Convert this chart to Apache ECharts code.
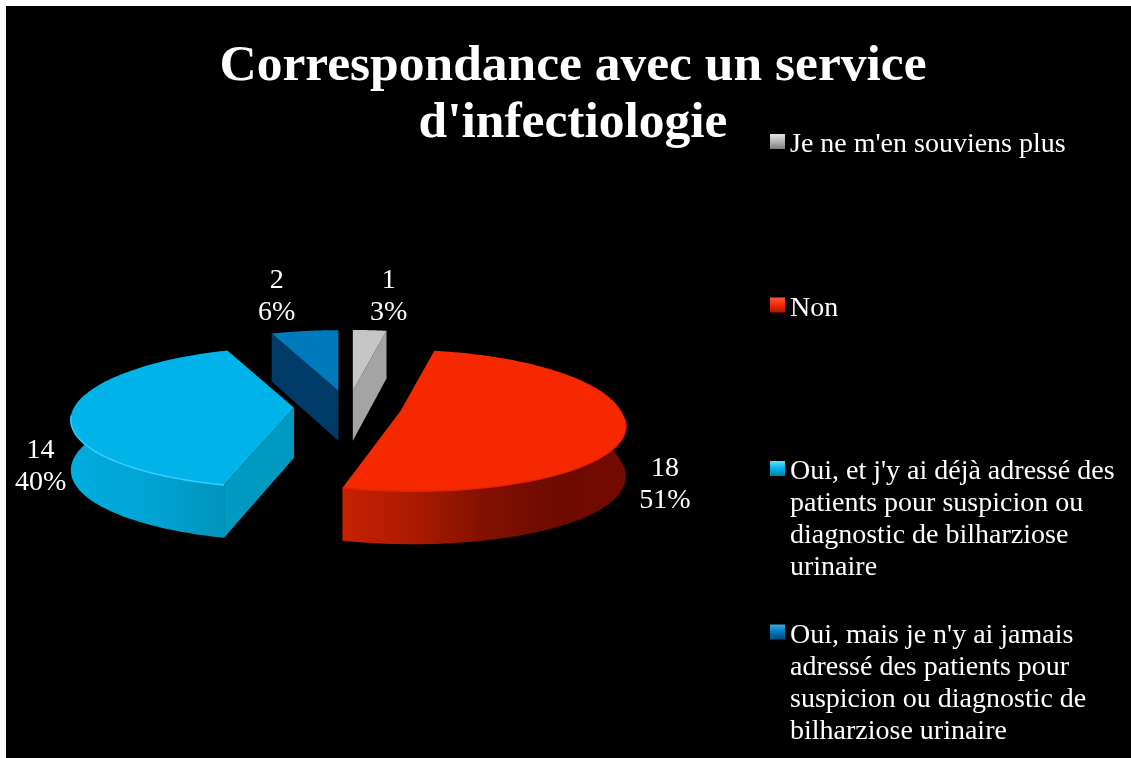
<!DOCTYPE html>
<html>
<head>
<meta charset="utf-8">
<style>
html,body{margin:0;padding:0;background:#fff;overflow:hidden}
#bg{position:absolute;left:6px;top:6px;width:1125px;height:752px;background:#000}
#chart{position:absolute;left:0;top:0;width:1131px;height:758px}
</style>
<script src="https://cdn.jsdelivr.net/npm/echarts@6/dist/echarts.min.js"></script>
</head>
<body>
<div id="bg"></div>
<div id="chart"></div>
<script>
const titleText = "Correspondance avec un service\nd'infectiologie";
const categories = [
  "Je ne m'en souviens plus",
  "Non",
  "Oui, et j'y ai déjà adressé des\npatients pour suspicion ou\ndiagnostic de bilharziose\nurinaire",
  "Oui, mais je n'y ai jamais\nadressé des patients pour\nsuspicion ou diagnostic de\nbilharziose urinaire"
];
const values = [1, 18, 14, 2];

const total = values.reduce((a, b) => a + b, 0);
const FONT = '"Liberation Serif", serif';

// Perspective model of the 3D pie
const X0 = 348, Y0 = 407, R = 220, K0 = 0.304, P = 0.17, EXPLODE = 54, DEPTH = 50;
const styles = [
  { top: '#c6c6c6', cut: '#a4a4a4', wall: ['#a4a4a4', '#a4a4a4'], sw: ['#e4e4e4', '#b4b4b4', '#7c7c7c'], lab: [19, -34], bias: 0 },
  { top: '#f62800', cut: '#b81c00', wall: ['#c62200', '#ac1a00', '#821000', '#6e0a00', '#740a00'], sw: ['#ff5a3c', '#f62800', '#a81800'], lab: [39, 58], rim: '#e02400', bias: 60 },
  { top: '#00b4e9', cut: '#0099c0', wall: ['#00acdf', '#00a4d4', '#0093bc'], sw: ['#60dcff', '#00b4e9', '#0080a8'], lab: [-32, 56], rim: '#38cdff', bias: 0 },
  { top: '#0079bd', cut: '#003a66', wall: ['#003a66', '#003a66'], sw: ['#3ca8e0', '#0079bd', '#004a78'], lab: [-28, -34], bias: 0 }
];
const labelStyle = { fontFamily: FONT, fontSize: 28, lineHeight: 32, fill: '#fff', align: 'center', verticalAlign: 'middle' };

function renderSlice(index, api) {
  const v = api.value(0);
  let before = 0;
  for (let i = 0; i < index; i++) before += values[i];
  const a0 = before / total * Math.PI * 2;
  const a1 = (before + v) / total * Math.PI * 2;
  const mid = (a0 + a1) / 2;
  const st = styles[index];
  const ax = X0 + EXPLODE * Math.sin(mid);
  const ay = Y0 - K0 * EXPLODE * Math.cos(mid);
  const apex = { x: ax, y: ay, d: DEPTH };
  const rim = a => {
    const c = Math.cos(a);
    const s = 1 / (1 + P * c);
    return {
      x: ax + R * Math.sin(a) * s + st.bias * Math.max(0, s - 1),
      y: ay - (69 + 2 * c) * c * s,
      d: DEPTH * Math.pow(s, 0.3)
    };
  };
  const n = 120;
  const arc = [];
  for (let i = 0; i <= n; i++) arc.push(a0 + (a1 - a0) * i / n);
  const top = [[apex.x, apex.y]].concat(arc.map(a => { const p = rim(a); return [p.x, p.y]; }));
  const children = [];

  // outer wall, near side only
  const near = arc.filter(a => Math.cos(a) < 0.2);
  if (near.length > 1 && a1 - a0 > 1) {
    const up = near.map(a => { const p = rim(a); return [p.x, p.y]; });
    const dn = near.map(a => { const p = rim(a); return [p.x, p.y + p.d]; }).reverse();
    children.push({
      type: 'polygon', silent: true, shape: { points: up.concat(dn) },
      style: { fill: new echarts.graphic.LinearGradient(0, 0, 1, 0,
        st.wall.map((c, i) => ({ offset: i / (st.wall.length - 1), color: c }))) }
    });
  }
  // cut faces when they look toward the viewer
  const inner = { x: (apex.x + rim(mid).x) / 2, y: (apex.y + rim(mid).y) / 2 };
  [a0, a1].forEach(a => {
    const p = rim(a);
    if (Math.abs(p.x - apex.x) < 1) return;
    const lineY = apex.y + (p.y - apex.y) * (inner.x - apex.x) / (p.x - apex.x);
    if (inner.y < lineY) {
      children.push({
        type: 'polygon', silent: true,
        shape: { points: [[apex.x, apex.y], [p.x, p.y], [p.x, p.y + p.d], [apex.x, apex.y + apex.d]] },
        style: { fill: st.cut }
      });
    }
  });
  // top face
  children.push({ type: 'polygon', silent: true, shape: { points: top }, style: { fill: st.top } });
  // soft bevel on the front rim
  if (st.rim) {
    const line = arc.filter(a => Math.cos(a) < -0.1).map(a => { const p = rim(a); return [p.x, p.y]; });
    children.push({ type: 'polyline', silent: true, shape: { points: line },
      style: { fill: null, stroke: st.rim, lineWidth: 1.5 } });
  }
  // data label
  const m = rim(mid);
  children.push({
    type: 'text', silent: true,
    style: Object.assign({ text: v + '\n' + Math.round(v / total * 100) + '%',
      x: m.x + st.lab[0], y: m.y + st.lab[1] }, labelStyle)
  });
  return { type: 'group', children };
}

const LINE = 32, SW = 15, SWY = 5, FIRST = 145, STEP = 163.5;
const legends = categories.map((name, i) => {
  const lines = name.split('\n').length;
  const H = lines * LINE;
  const s = styles[i].sw;
  const a = SWY / H, b = (SWY + SW) / H;
  return {
    left: 770, top: FIRST + i * STEP - LINE / 2,
    orient: 'vertical', padding: 0, itemWidth: SW, itemHeight: H, selectedMode: false,
    textStyle: { color: '#fff', fontFamily: FONT, fontSize: 28, lineHeight: LINE, align: 'left' },
    data: [{
      name,
      icon: 'path://M0 ' + SWY + 'H' + SW + 'V' + (SWY + SW) + 'H0ZM0 0L0 0.01M0 ' + H + 'L0 ' + (H - 0.01),
      itemStyle: { color: new echarts.graphic.LinearGradient(0, 0, 0, 1, [
        { offset: 0, color: s[0] }, { offset: a, color: s[0] }, { offset: (a + b) / 2, color: s[1] },
        { offset: b, color: s[2] }, { offset: 1, color: s[2] }]) }
    }]
  };
});

const chart = echarts.init(document.getElementById('chart'), null, { renderer: 'canvas' });
chart.setOption({
  backgroundColor: 'transparent',
  animation: false,
  title: {
    text: titleText, left: 568, top: 33, textAlign: 'center',
    textStyle: { color: '#fff', fontFamily: FONT, fontWeight: 'bold', fontSize: 51.5, lineHeight: 57 }
  },
  legend: legends,
  series: categories.map((name, i) => ({
    type: 'custom', name, coordinateSystem: 'none', silent: true,
    data: [[values[i]]],
    renderItem: (params, api) => renderSlice(i, api)
  }))
});
</script>
</body>
</html>
